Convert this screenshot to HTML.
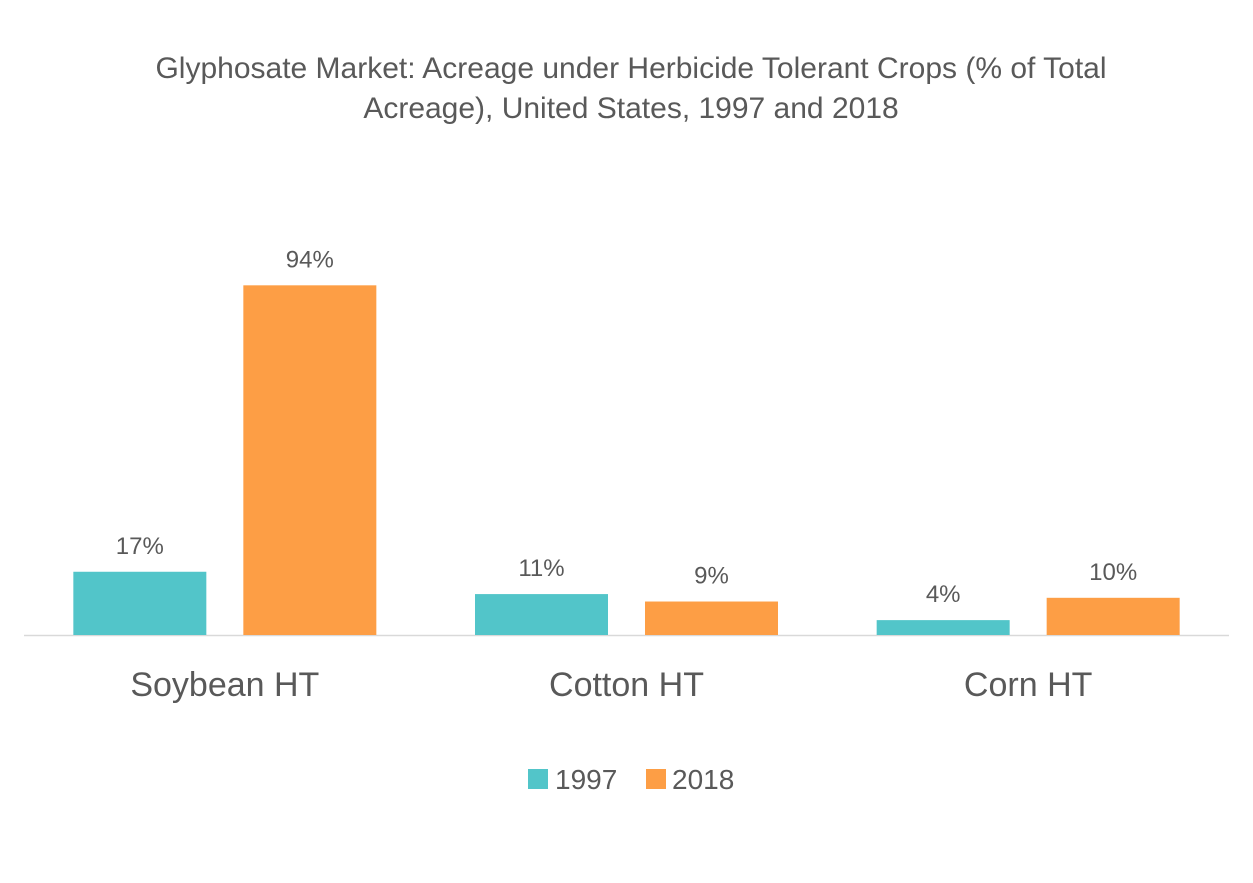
<!DOCTYPE html>
<html><head><meta charset="utf-8"><style>
body{margin:0;background:#fff;}
svg text{font-family:"Liberation Sans",sans-serif;fill:#595959;}
</style></head><body>
<svg width="1253" height="878" xmlns="http://www.w3.org/2000/svg">
<text x="631" y="78" text-anchor="middle" font-size="30">Glyphosate Market: Acreage under Herbicide Tolerant Crops (% of Total</text>
<text x="631" y="118" text-anchor="middle" font-size="30">Acreage), United States, 1997 and 2018</text>
<line x1="24" y1="635.5" x2="1229" y2="635.5" stroke="#d9d9d9" stroke-width="1.5"/>
<g id="bars"></g>
<g>
<rect x="528" y="769" width="20" height="20" fill="#52C5C9"/>
<text x="555" y="789" font-size="28">1997</text>
<rect x="646" y="769" width="20" height="20" fill="#FD9E45"/>
<text x="672" y="789" font-size="28">2018</text>
</g>
</svg>
<script>
const categories=["Soybean HT","Cotton HT","Corn HT"];
const values1997=[17,11,4];
const values2018=[94,9,10];
const ns="http://www.w3.org/2000/svg";
const g=document.getElementById('bars');
const left=24,right=1229,base=635,pxPer=3.72,bw=133,gap=37;
const gw=(right-left)/categories.length;
function y(v){return base-v*pxPer;}
function mk(t,a){const e=document.createElementNS(ns,t);for(const k in a)e.setAttribute(k,a[k]);g.appendChild(e);return e;}
categories.forEach((c,i)=>{
 const cx=left+gw*(i+0.5);
 [[values1997,'#52C5C9','1997',cx-gap/2-bw],[values2018,'#FD9E45','2018',cx+gap/2]].forEach(([arr,col,s,x])=>{
  const v=arr[i];
  const r=mk('rect',{x:x,y:y(v),width:bw,height:base-y(v),fill:col});
  
  
  const t=mk('text',{x:x+bw/2,y:y(v)-18,'text-anchor':'middle','font-size':'24'});
  t.textContent=v+'%';
  
  
 });
 const l=mk('text',{x:cx,y:696,'text-anchor':'middle','font-size':'34'});
 l.textContent=c;
 
 
});
</script>
</body></html>
